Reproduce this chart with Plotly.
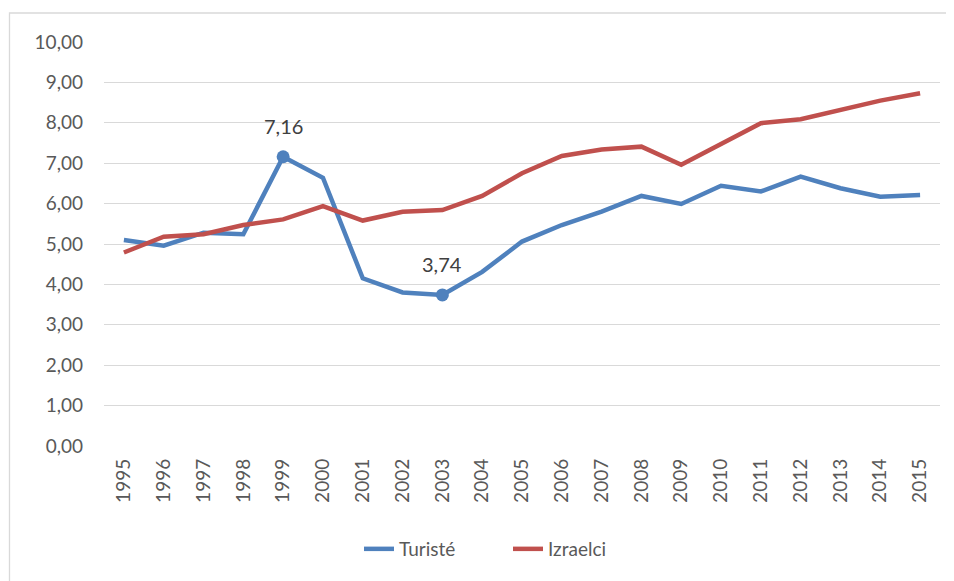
import plotly.graph_objects as go

years = [str(y) for y in range(1995, 2016)]
turiste = [5.10, 4.96, 5.28, 5.24, 7.16, 6.64, 4.15, 3.80, 3.74, 4.31, 5.06,
           5.47, 5.80, 6.19, 5.99, 6.44, 6.30, 6.67, 6.38, 6.17, 6.21]
izraelci = [4.79, 5.18, 5.24, 5.47, 5.61, 5.94, 5.58, 5.80, 5.84, 6.19, 6.75,
            7.18, 7.34, 7.41, 6.96, 7.48, 7.99, 8.09, 8.33, 8.55, 8.73]
labeled_years = ["1999", "2003"]
labeled_values = [7.16, 3.74]
labeled_text = ["7,16", "3,74"]
y_ticks = [i for i in range(0, 11)]
y_tick_labels = [f"{v},00" for v in y_ticks]

blue = "#4F81BD"
red = "#C0504D"
font_family = "Lato, 'Open Sans', sans-serif"
text_color = "#595959"

# page body has an 8px margin; offsets compensate
off = 8
pl, pr, pt, pb = 104 - off, 940 - off, 42 - off, 446 - off
W, H = 954, 581

fig = go.Figure()
fig.add_trace(go.Scatter(x=years, y=turiste, name="Turisté", mode="lines",
                         line=dict(color=blue, width=4.5)))
fig.add_trace(go.Scatter(x=years, y=izraelci, name="Izraelci", mode="lines",
                         line=dict(color=red, width=4.5)))
fig.add_trace(go.Scatter(x=labeled_years, y=labeled_values, mode="markers",
                         marker=dict(color=blue, size=13), showlegend=False,
                         hoverinfo="skip"))

annotations = [dict(x=years.index(xv), y=yv, xref="x", yref="y", text=t,
                    showarrow=False, yshift=31,
                    font=dict(size=20, color="#404040", family=font_family))
               for xv, yv, t in zip(labeled_years, labeled_values, labeled_text)]

pw, ph = pr - pl, pb - pt
fig.update_layout(
    width=W, height=H,
    margin=dict(l=pl, r=W - pr, t=pt, b=H - pb, autoexpand=False),
    paper_bgcolor="white", plot_bgcolor="white",
    font=dict(family=font_family, size=19, color=text_color),
    showlegend=True,
    legend=dict(orientation="h", x=(508 - off - pl) / pw, xanchor="center",
                y=(pb - (549 - off)) / ph, yanchor="middle",
                font=dict(size=19, color=text_color), entrywidth=104),
    xaxis=dict(type="category", range=[-0.5, 20.5], tickangle=-90,
               showgrid=False, zeroline=False, showline=False, ticks="",
               ticklabelstandoff=8, tickfont=dict(size=19, color=text_color)),
    yaxis=dict(range=[0, 10], tickvals=y_ticks, ticktext=y_tick_labels,
               showgrid=True, gridcolor="#D9D9D9", gridwidth=1.3,
               zeroline=False, showline=False, ticks="", ticklabelstandoff=20,
               tickfont=dict(size=19, color=text_color)),
    annotations=annotations,
    shapes=[dict(type="rect", xref="paper", yref="paper",
                 x0=(9.5 - off - pl) / pw, x1=(970 - off - pl) / pw,
                 y0=(pb - 600) / ph, y1=(pb - (13 - off)) / ph,
                 line=dict(color="#D9D9D9", width=1.3), layer="below")],
)

fig.write_html("out.html")
